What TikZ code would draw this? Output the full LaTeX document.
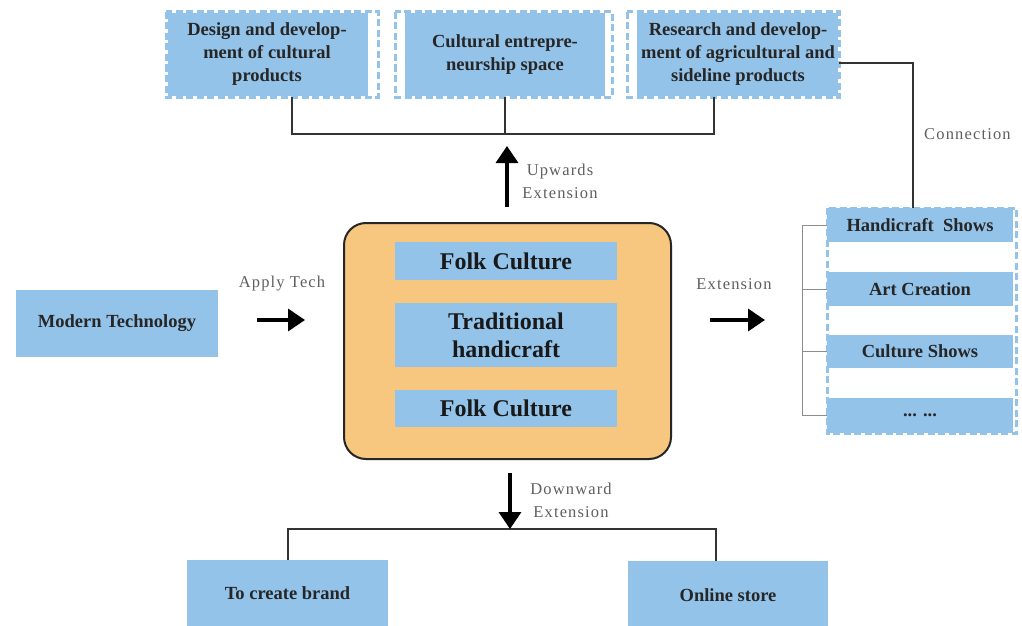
\documentclass[tikz,border=0pt]{standalone}
\usepackage{fontspec}
\setmainfont{Liberation Serif}
\newfontfamily\lblfont[LetterSpace=7]{Liberation Serif}
\usetikzlibrary{arrows.meta}
\definecolor{boxblue}{RGB}{148,195,234}
\definecolor{coreorange}{RGB}{247,199,127}
\definecolor{labelgray}{RGB}{95,95,95}
\tikzset{
  bluebox/.style={fill=boxblue, inner sep=0pt, align=center, font=\bfseries\fontsize{18.5}{23}\selectfont, text=black!85},
  innerbox/.style={fill=boxblue, inner sep=0pt, align=center, minimum width=222pt, font=\bfseries\fontsize{24}{28}\selectfont, text=black!90},
  dashwhite/.style={draw=white, line width=3pt},
  dashblue/.style={draw=boxblue, line width=3pt, dash pattern=on 7pt off 3.5pt},
  conn/.style={draw=black!80, line width=2pt},
  thinconn/.style={draw=black!45, line width=1pt},
  bigarrow/.style={draw=black, line width=3.5pt, -{Triangle[length=17pt,width=22pt]}},
  lbl/.style={text=labelgray, inner sep=0pt, align=center, font=\lblfont\fontsize{16.5}{23}\selectfont}
}
\begin{document}
\begin{tikzpicture}[x=1pt,y=-1pt]
\useasboundingbox[fill=white] (0,0) rectangle (1022,626);

% ---- top boxes ----
\node[bluebox, minimum width=202pt, minimum height=85pt] (b1) at (267,54.5) {Design and develop-\\ment of cultural\\products};
\node[bluebox, minimum width=200pt, minimum height=85pt] (b2) at (505,54.5) {Cultural entrepre-\\neurship space};
\node[bluebox, minimum width=202pt, minimum height=85pt] (b3) at (738,54.5) {Research and develop-\\ment of agricultural and\\sideline products};
\draw[dashwhite] (166,12) rectangle (378,97);
\draw[dashblue]  (166,12) rectangle (378,97);
\draw[dashwhite] (395,12) rectangle (612,97);
\draw[dashblue]  (395,12) rectangle (612,97);
\draw[dashwhite] (627,12) rectangle (839,97);
\draw[dashblue]  (627,12) rectangle (839,97);

% ---- core ----
\node[draw=black!85, line width=2pt, fill=coreorange, rounded corners=22pt, minimum width=327pt, minimum height=236pt, inner sep=0pt] (core) at (507.5,341) {};
\node[innerbox, minimum height=38pt] (fc1) at (506,261) {Folk Culture};
\node[innerbox, minimum height=64pt] (th) at (506,335) {Traditional\\handicraft};
\node[innerbox, minimum height=37pt] (fc2) at (506,408.5) {Folk Culture};

% ---- left ----
\node[bluebox, minimum width=202pt, minimum height=67pt] (mt) at (117,323.5) {Modern Technology};

% ---- right group ----
\draw[dashwhite] (827,208) rectangle (1016,433);
\draw[dashblue]  (827,208) rectangle (1016,433);
\node[bluebox, minimum width=186pt, minimum height=34pt] (r1) at (920,225) {Handicraft\ \ Shows};
\node[bluebox, minimum width=186pt, minimum height=34pt] (r2) at (920,289) {Art Creation};
\node[bluebox, minimum width=186pt, minimum height=33pt] (r3) at (920,351.5) {Culture Shows};
\node[bluebox, minimum width=186pt, minimum height=35pt] (r4) at (920,415.5) {... ...};

% ---- bottom ----
\node[bluebox, minimum width=201pt, minimum height=66pt] (bl) at (287.5,593) {To create brand};
\node[bluebox, minimum width=200pt, minimum height=68pt] (br) at (728,595) {Online store};

% ---- coordinates ----
\coordinate (tj) at (506,134);
\coordinate (cxx) at (913,100);
\coordinate (gb) at (802,300);
\coordinate (bj) at (510,529);
\coordinate (brt) at (716,561);
\coordinate (b1t) at (292,97);
\coordinate (b3t) at (714,97);
\coordinate (b3e) at (839,63);
\coordinate (upS) at (507,207);
\coordinate (upE) at (507,146);
\coordinate (dnS) at (510,473);
\coordinate (dnE) at (510,529);
\coordinate (apS) at (257,320);
\coordinate (apE) at (305,320);
\coordinate (exS) at (710,320);
\coordinate (exE) at (765,320);

% ---- connectors ----
\draw[conn] (b1t) |- (b3t |- tj) -- (b3t);
\draw[conn] (b2.south) -- (b2.south |- tj);
\draw[conn] (b3e) -| (r1.north -| cxx);
\draw[thinconn] (r1.west) -| (gb |- r4.west) -- (r4.west);
\draw[thinconn] (r2.west) -- (r2.west -| gb);
\draw[thinconn] (r3.west) -- (r3.west -| gb);
\draw[conn] (bl.north) |- (brt |- bj) -- (brt);

\draw[bigarrow] (upS) -- (upE);
\draw[bigarrow] (dnS) -- (dnE);
\draw[bigarrow] (apS) -- (apE);
\draw[bigarrow] (exS) -- (exE);

% ---- labels ----
\node[lbl] (lup) at (560,181) {Upwards\\Extension};
\node[lbl] (ldn) at (571,500) {Downward\\Extension};
\node[lbl] (lap) at (282,284) {Apply Tech};
\node[lbl] (lex) at (734,284) {Extension};
\node[lbl, anchor=west] (lcn) at (924,134) {Connection};
\end{tikzpicture}
\end{document}
